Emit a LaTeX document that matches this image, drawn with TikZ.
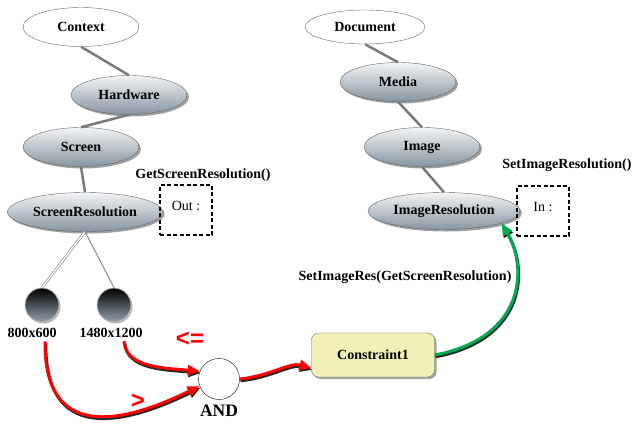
\documentclass[tikz,border=0pt]{standalone}
\usepackage{fontspec}
\setmainfont{Liberation Serif}
\newfontfamily\opsans{Liberation Sans}
\usetikzlibrary{shapes.geometric,arrows.meta,shadows}
\definecolor{slate}{RGB}{135,148,160}
\definecolor{ballbot}{RGB}{145,160,172}
\definecolor{notefill}{RGB}{242,240,185}
\definecolor{setgreen}{RGB}{0,170,80}
\begin{document}
\begin{tikzpicture}[x=1pt,y=-1pt,font=\fontsize{14}{16}\selectfont\bfseries,
 obj/.style={shape=ellipse,draw=gray!80!black,inner sep=0pt,minimum width=116pt,minimum height=39pt},
 objW/.style={obj,fill=white},
 objG/.style={obj,top color=white!90!slate,bottom color=slate,drop shadow={shadow xshift=2pt,shadow yshift=-2pt,fill=black!75}},
 val/.style={shape=circle,draw=gray!50,line width=0.8pt,minimum size=34pt,inner sep=0pt,top color=black,bottom color=ballbot,drop shadow={shadow xshift=1.5pt,shadow yshift=-1.5pt,fill=black!60}},
 port/.style={draw,line width=1.3pt,dash pattern=on 4pt off 2.5pt,minimum width=52pt,minimum height=50pt,text depth=8pt,font=\fontsize{14}{16}\selectfont\mdseries},
 link/.style={draw=gray!95!black,line width=2.5pt},
 rel/.style={line width=3pt,-{Triangle[length=12pt,width=10pt]}},
 cmp/.style={text=red,font=\fontsize{24}{26}\selectfont\opsans\bfseries}]
\useasboundingbox (0,0) rectangle (634,426);

\node[objW] (Ctx) at (81,27) {Context};
\node[objG] (Hw) at (129,95) {Hardware};
\draw[link] (Ctx.south) -- (Hw.north);
\node[objG] (Scr) at (81,147) {Screen};
\draw[link] (Hw.south) -- (Scr.north);
\node[objG,minimum width=155pt] (SR) at (85,212) {ScreenResolution};
\draw[link] (Scr.south) -- (SR.north);

\node[objW,minimum width=120pt,minimum height=34pt] (Doc) at (365,27) {Document};
\node[objG] (Med) at (398,82) {Media};
\draw[link] (Doc.south) -- (Med.north);
\node[objG] (Img) at (422,147) {Image};
\draw[link] (Med.south) -- (Img.north);
\node[objG,minimum width=152pt,minimum height=37pt] (IR) at (444,211) {ImageResolution};
\draw[link] (Img.south) -- (IR.north);

\node[port] (Out) at (186,210) {Out :};
\node (GetL) at (203,175) {GetScreenResolution()};
\node[port] (In) at (543,211) {In :};
\node (SetL) at (567,165) {SetImageResolution()};

\node[val] (V1) at (42,305) {};
\node[val] (V2) at (114,305) {};
\draw[draw=gray,line width=0.6pt,double=white,double distance=1.4pt] (SR.south) -- (V1.north);
\draw[draw=gray,line width=0.9pt] (SR.south) -- (V2.north);
\node (L1) at (32,333) {800x600};
\node (L2) at (111,333) {1480x1200};

\node[circle,draw,fill=white,minimum size=41pt,inner sep=0pt] (And) at (219,379) {};
\node[font=\fontsize{17.5}{19}\selectfont\bfseries] (AndL) at (219,411) {AND};

\node[draw=gray!80!black,fill=notefill,rounded corners=7pt,minimum width=123pt,minimum height=44pt,drop shadow={shadow xshift=2pt,shadow yshift=-2pt,fill=black!70}] (C1) at (373,355) {Constraint1};
\node (SetC) at (405,277) {SetImageRes(GetScreenResolution)};

\foreach \dx/\dy/\cr/\cg in {0.8/-1.8/black!85/black!85,0/0/red/setgreen}{
\begin{scope}[transform canvas={xshift=\dx pt,yshift=\dy pt}]
\draw[rel,draw=\cr] ([xshift=13pt]L2.south) .. controls (126,368) and (165,368) .. (And.158);
\draw[rel,draw=\cr] ([xshift=13pt]L1.south) .. controls (44,440) and (120,425) .. (And.200);
\draw[rel,draw=\cr] (And.east) .. controls (270,376) and (290,362) .. (C1.192);
\draw[rel,draw=\cg] (C1.east) .. controls (525,338) and (528,268) .. (IR.-12);
\end{scope}
}
\node[cmp] (LeL) at (190,339) {<=};
\node[cmp] (GtL) at (138,401) {>};
\end{tikzpicture}
\end{document}
